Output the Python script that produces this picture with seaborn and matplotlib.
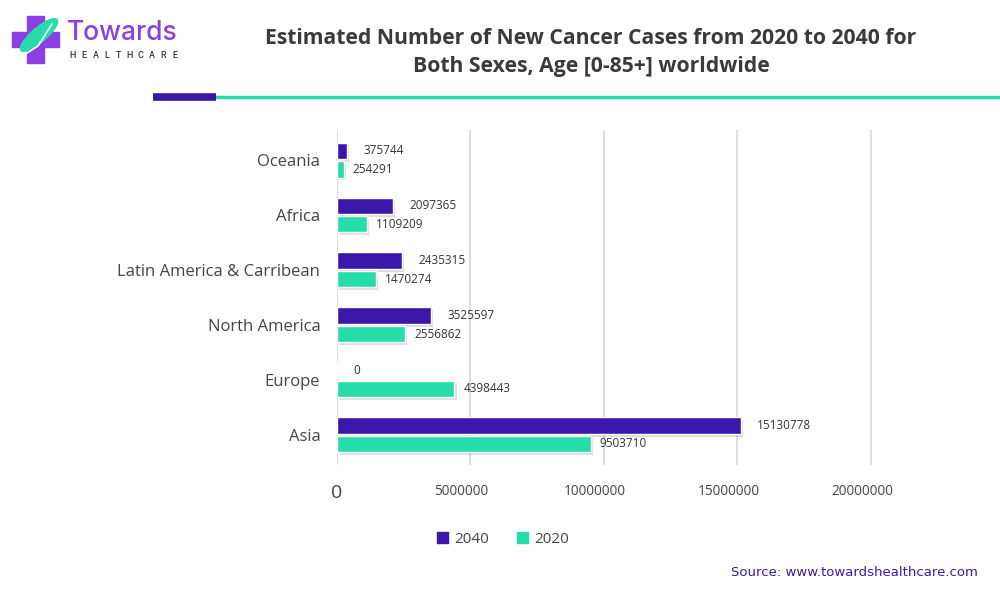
import matplotlib
matplotlib.use("Agg")
import matplotlib.pyplot as plt
import matplotlib.patheffects as pe
from matplotlib.patches import Rectangle, Ellipse
from matplotlib.lines import Line2D
import seaborn as sns
import pandas as pd

regions = ["Oceania", "Africa", "Latin America & Carribean",
           "North America", "Europe", "Asia"]
cases_2040 = [375744, 2097365, 2435315, 3525597, 0, 15130778]
cases_2020 = [254291, 1109209, 1470274, 2556862, 4398443, 9503710]
years = ["2040", "2020"]
x_ticks = [0, 5000000, 10000000, 15000000, 20000000]

PURPLE = "#3c18a8"
TEAL = "#26dda9"
LOGO = "#8b3fe3"

df = pd.DataFrame({
    "region": regions * 2,
    "year": ["2040"] * len(regions) + ["2020"] * len(regions),
    "cases": cases_2040 + cases_2020,
})

sns.set_style("white")
plt.rcParams["font.family"] = ["Open Sans", "DejaVu Sans"]

fig = plt.figure(figsize=(10, 5.93), dpi=100)
ax = fig.add_axes([0.337, 0.216, 0.622, 0.565])

sns.barplot(data=df, x="cases", y="region", hue="year", hue_order=years,
            order=regions, palette=[PURPLE, TEAL], saturation=1, orient="h",
            width=0.67, gap=0.1, ax=ax, legend=False)

# soft drop shadow under the bars
shadow = [pe.SimplePatchShadow(offset=(1.5, -2), alpha=0.15), pe.Normal()]
for p in ax.patches:
    p.set_path_effects(shadow)

for cont, pad in zip(ax.containers, [11.5, 6.5]):
    ax.bar_label(cont, labels=[str(int(v)) for v in cont.datavalues],
                 padding=pad, fontsize=8.5, color="#333333")

ax.set_xlim(0, 23300000)
ax.set_ylim(5.55, -0.55)
ax.set_xticks(x_ticks)
ax.set_xticklabels([])
# x labels sit a little left of their grid lines, "0" is bigger
for t in x_ticks:
    if t == 0:
        ax.annotate("0", xy=(t, 0), xycoords=("data", "axes fraction"),
                    xytext=(0, -20), textcoords="offset points", ha="center",
                    va="center", fontsize=14, color="#444444")
    else:
        ax.annotate(str(t), xy=(t, 0), xycoords=("data", "axes fraction"),
                    xytext=(-6.5, -19.5), textcoords="offset points", ha="center",
                    va="center", fontsize=9.8, color="#444444")
ax.tick_params(axis="x", length=0)
ax.tick_params(axis="y", length=0, pad=12, labelsize=12, labelcolor="#444444")
ax.xaxis.grid(True, color="#dedede", linewidth=1.5)
ax.set_axisbelow(True)
ax.set_xlabel("")
ax.set_ylabel("")
for s in ax.spines.values():
    s.set_visible(False)

# legend
handles = [Rectangle((0, 0), 1, 1, color=PURPLE), Rectangle((0, 0), 1, 1, color=TEAL)]
fig.legend(handles, years, loc="center", bbox_to_anchor=(0.503, 0.091), ncol=2,
           frameon=False, fontsize=11, handlelength=0.75, handleheight=0.75,
           handletextpad=0.4, columnspacing=1.8, labelcolor="#444444")

# title
fig.text(0.591, 0.935, "Estimated Number of New Cancer Cases from 2020 to 2040 for",
         ha="center", va="center", fontsize=15.2, fontweight="bold", color="#3a3a3a")
fig.text(0.591, 0.888, "Both Sexes, Age [0-85+] worldwide",
         ha="center", va="center", fontsize=15.2, fontweight="bold", color="#3a3a3a")

# divider under the title
fig.add_artist(Line2D([0.216, 1.0], [0.836, 0.836], color=TEAL, lw=2.5,
                      transform=fig.transFigure))
fig.add_artist(Line2D([0.153, 0.216], [0.836, 0.836], color=PURPLE, lw=5.5,
                      solid_capstyle="butt", transform=fig.transFigure))

# logo
W, H = 1000, 593
def fr(x, y, w, h, c):
    fig.add_artist(Rectangle((x / W, 1 - (y + h) / H), w / W, h / H, color=c,
                             transform=fig.transFigure))
fr(27, 16, 17, 47, LOGO)
fr(12, 32, 47, 15, LOGO)
fig.add_artist(Ellipse((39 / W, 1 - 35 / H), 18 / W, 38 / H, angle=-32,
                       color=TEAL, transform=fig.transFigure))
fig.add_artist(Line2D([24 / W, 38 / W, 52 / W], [1 - 55 / H, 1 - 46 / H, 1 - 24 / H],
                      color="white", lw=1.2, transform=fig.transFigure))
fig.text(0.067, 0.944, "Towards", ha="left", va="center", fontsize=19,
         color=LOGO, family="Inter", fontweight="medium")
for i, ch in enumerate("HEALTHCARE"):
    fig.text((73 + i * 11.3) / W, 1 - 56 / H, ch, ha="center", va="center",
             fontsize=6.5, color="#333333", family="Roboto", fontweight="medium")

fig.text(0.978, 0.034, "Source: www.towardshealthcare.com", ha="right", va="center",
         fontsize=9.5, color=PURPLE, family="DejaVu Sans")

fig.savefig("out.png", dpi=100)
